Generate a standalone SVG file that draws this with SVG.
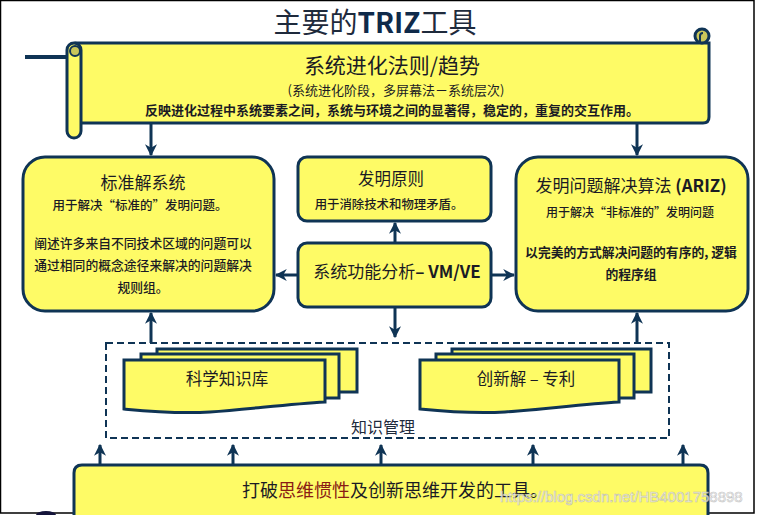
<svg xmlns="http://www.w3.org/2000/svg" width="758" height="515" viewBox="0 0 758 515">
<defs>
<style>
.box{fill:#fefb66;stroke:#0f3455;stroke-width:3}
.doc{fill:#fefb66;stroke:#0f3455;stroke-width:3;stroke-linejoin:miter}
.ln{stroke:#0f3455;stroke-width:3;fill:none}
.t{font-family:"Noto Sans CJK SC","Liberation Sans",sans-serif;fill:#1b1b24;text-anchor:middle}
.b{font-weight:bold}
.m{font-weight:500}
</style>
<marker id="ah" viewBox="0 0 10 10" refX="9" refY="5" markerWidth="4" markerHeight="4" orient="auto" markerUnits="strokeWidth">
<path d="M0,0 L10,5 L0,10 L3,5 Z" fill="#0f3455"/>
</marker>
</defs>
<rect x="0" y="0" width="758" height="515" fill="#ffffff"/>
<path d="M0.5,0.5 H754 V513 H0.5 Z" fill="none" stroke="#000" stroke-width="1.5"/>

<text class="t" x="375" y="33" font-size="28" style="fill:#1e2a3c">主要的<tspan class="b" style="fill:#0f2a4a">TRIZ</tspan>工具</text>

<g id="connectors">
<line class="ln" x1="151" y1="124" x2="151" y2="155" marker-end="url(#ah)"/>
<line class="ln" x1="637" y1="124" x2="637" y2="155" marker-end="url(#ah)"/>
<line class="ln" x1="395" y1="243" x2="395" y2="223" marker-end="url(#ah)"/>
<line class="ln" x1="395" y1="307" x2="395" y2="337" marker-end="url(#ah)"/>
<line class="ln" x1="297" y1="275" x2="276" y2="275" marker-end="url(#ah)"/>
<line class="ln" x1="492" y1="275" x2="514" y2="275" marker-end="url(#ah)"/>
<line class="ln" x1="151" y1="343" x2="151" y2="313" marker-end="url(#ah)"/>
<line class="ln" x1="637" y1="343" x2="637" y2="313" marker-end="url(#ah)"/>
<line class="ln" x1="100" y1="465" x2="100" y2="445" marker-end="url(#ah)"/>
<line class="ln" x1="233" y1="465" x2="233" y2="445" marker-end="url(#ah)"/>
<line class="ln" x1="381" y1="465" x2="381" y2="445" marker-end="url(#ah)"/>
<line class="ln" x1="533" y1="465" x2="533" y2="445" marker-end="url(#ah)"/>
<line class="ln" x1="683" y1="465" x2="683" y2="445" marker-end="url(#ah)"/>
</g>

<g id="scroll">
<line x1="25" y1="57" x2="68" y2="57" stroke="#0f3455" stroke-width="4"/>
<path class="box" d="M76,43 H709 V117 Q709,123 703,123 H76 Z"/>
<circle cx="702" cy="36" r="7" fill="#c9c65a" stroke="#0f3455" stroke-width="3"/>
<path d="M700,43 V36 Q700,33 703,33" fill="none" stroke="#0f3455" stroke-width="2"/>
<rect class="box" x="67" y="43" width="14" height="95" rx="7"/>
<circle cx="75" cy="51" r="5" fill="#c9c65a" stroke="#0f3455" stroke-width="2"/>
<text class="t" x="392" y="73" font-size="21">系统进化法则/趋势</text>
<text class="t" x="396" y="95" font-size="13">(系统进化阶段，多屏幕法－系统层次)</text>
<text class="t b" x="392" y="115" font-size="13">反映进化过程中系统要素之间，系统与环境之间的显著得，稳定的，重复的交互作用。</text>
</g>

<g id="standard">
<rect class="box" x="23" y="157" width="251" height="154" rx="22"/>
<text class="t" x="143" y="189" font-size="17">标准解系统</text>
<text class="t m" x="140" y="210" font-size="12.5">用于解决“标准的”发明问题。</text>
<text class="t m" x="143" y="248" font-size="12.8">阐述许多来自不同技术区域的问题可以</text>
<text class="t m" x="143" y="270" font-size="12.8">通过相同的概念途径来解决的问题解决</text>
<text class="t m" x="143" y="292" font-size="12.8">规则组。</text>
</g>

<g id="principles">
<rect class="box" x="298" y="157" width="193" height="64" rx="9"/>
<text class="t" x="391" y="185" font-size="16.5">发明原则</text>
<text class="t m" x="389" y="209" font-size="12.4">用于消除技术和物理矛盾。</text>
</g>

<g id="function">
<rect class="box" x="298" y="243" width="193" height="64" rx="9"/>
<text class="t" x="397" y="278" font-size="17">系统功能分析<tspan class="b">– VM/VE</tspan></text>
</g>

<g id="ariz">
<rect class="box" x="516" y="157" width="232" height="154" rx="22"/>
<text class="t" x="631" y="192" font-size="17">发明问题解决算法 <tspan class="b">(ARIZ)</tspan></text>
<text class="t m" x="630" y="217" font-size="12">用于解决“非标准的”发明问题</text>
<text class="t b" x="631" y="257" font-size="12.8">以完美的方式解决问题的有序的, 逻辑</text>
<text class="t b" x="631" y="279" font-size="12.8">的程序组</text>
</g>

<g id="knowledge">
<rect x="106" y="343" width="563" height="95" fill="none" stroke="#0f3455" stroke-width="2" stroke-dasharray="7,4"/>
<text class="t" x="383" y="433" font-size="16" style="fill:#1e2a3c">知识管理</text>
</g>

<g id="sciencedb">
<rect class="doc" x="157" y="349" width="200" height="43"/>
<rect class="doc" x="141" y="354" width="198" height="44"/>
<path class="doc" d="M124,360 H325 V402 C290,404 250,409 210,412 C175,414 145,411 124,409 Z"/>
<text class="t" x="227" y="385" font-size="16.5">科学知识库</text>
</g>

<g id="patents">
<rect class="doc" x="452" y="349" width="199" height="43"/>
<rect class="doc" x="436" y="354" width="198" height="44"/>
<path class="doc" d="M420,360 H619 V402 C585,404 545,409 505,412 C470,414 440,411 420,409 Z"/>
<text class="t" x="526" y="385" font-size="16.5">创新解 – 专利</text>
</g>

<g id="inertia">
<path class="box" d="M74,520 V473 Q74,465 82,465 H700 Q708,465 708,473 V520"/>
<text class="t" x="395" y="497" font-size="18">打破<tspan style="fill:#8a1c14">思维惯性</tspan>及创新思维开发的工具。</text>
</g>

<ellipse cx="46" cy="515" rx="10" ry="4" fill="#14143a"/>
<text x="500" y="502" font-family="Liberation Sans, sans-serif" font-size="15" fill="#ffffff" stroke="#b8b8b8" stroke-width="0.6" opacity="0.85">https://blog.csdn.net/HB4001758898</text>
</svg>
